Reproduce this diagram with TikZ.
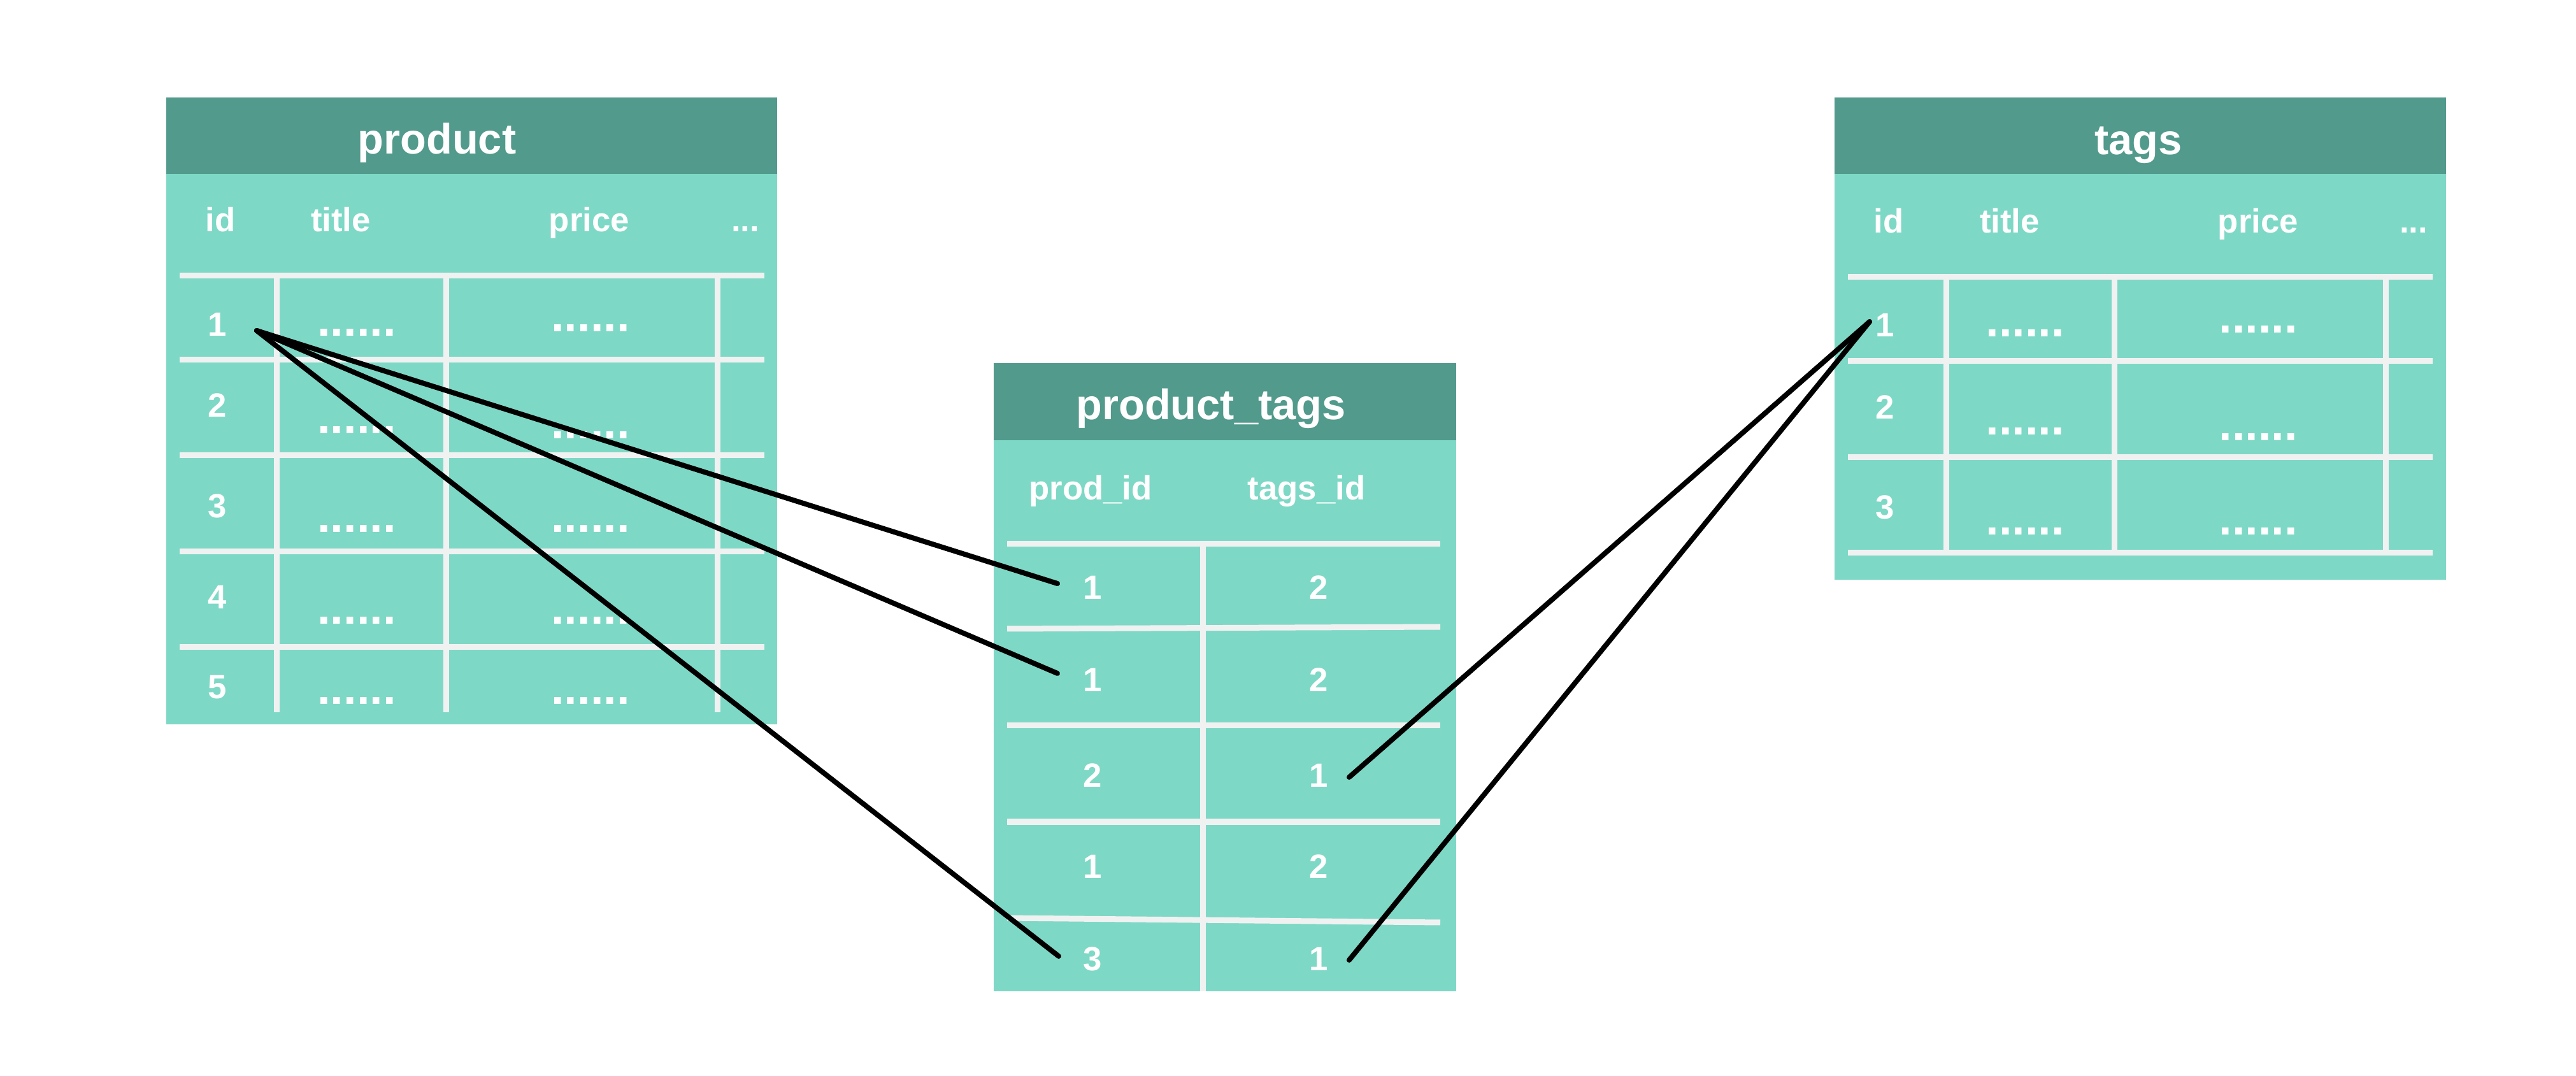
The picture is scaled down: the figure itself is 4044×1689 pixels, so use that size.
\documentclass[tikz,border=0pt]{standalone}
\usepackage{fontspec}
\setmainfont{Liberation Sans}
\definecolor{hdr}{RGB}{81,154,140}
\definecolor{tbody}{RGB}{126,216,198}
\definecolor{grid}{RGB}{240,242,242}
\begin{document}
\begin{tikzpicture}[x=0.01cm,y=-0.01cm,
 hdrtxt/.style={anchor=base,text=white,font=\bfseries\fontsize{19}{22}\selectfont,inner sep=0},
 coltxt/.style={anchor=base,text=white,font=\bfseries\fontsize{15}{18}\selectfont,inner sep=0},
 dottxt/.style={anchor=base,text=white,font=\bfseries\fontsize{21}{24}\selectfont,inner sep=0},
 gridline/.style={draw=grid,line width=0.09cm},
 link/.style={draw=black,line width=0.08cm,line cap=round}]
\useasboundingbox[fill=white] (0,0) rectangle (4044,1689);

% ---------- product ----------
\fill[tbody] (261,153) rectangle (1220,1137);
\fill[hdr] (261,153) rectangle (1220,273);
\node[hdrtxt] (ptitle) at (686,242) {product};
\node[coltxt] (pid) at (346,364) {id};
\node[coltxt] (ptit) at (535,364) {title};
\node[coltxt] (ppri) at (925,364) {price};
\node[coltxt] (pmore) at (1170,364) {...};
\foreach \y in {433,565,715,866,1016} \draw[gridline] (282,\y) -- (1200,\y);
\foreach \x in {434,700,1126} \draw[gridline] (\x,433) -- (\x,1118);
\foreach \n/\y in {1/528,2/655,3/813,4/956,5/1097} \node[coltxt] (pr\n) at (341,\y) {\n};
\foreach \n/\y in {1/523,2/676,3/831,4/975,5/1101} \node[dottxt] (pdt\n) at (560,\y+5) {......};
\foreach \n/\y in {1/516,2/684,3/831,4/975,5/1101} \node[dottxt] (pdp\n) at (927,\y+5) {......};

% ---------- product_tags ----------
\fill[tbody] (1560,570) rectangle (2286,1556);
\fill[hdr] (1560,570) rectangle (2286,691);
\node[hdrtxt] (pttitle) at (1901,659) {product\_tags};
\node[coltxt] (ptpid) at (1712,785) {prod\_id};
\node[coltxt] (pttid) at (2051,785) {tags\_id};
\draw[gridline] (1581,854) -- (2261,854);
\draw[gridline] (1581,987) -- (2261,984);
\draw[gridline] (1581,1139) -- (2261,1139);
\draw[gridline] (1581,1290) -- (2261,1290);
\draw[gridline] (1581,1441) -- (2261,1448);
\draw[gridline] (1888,854) -- (1888,1556);
\foreach \n/\a/\b/\y in {1/1/2/941,2/1/2/1086,3/2/1/1236,4/1/2/1379,5/3/1/1524} {
  \node[coltxt] (pta\n) at (1715,\y) {\a};
  \node[coltxt] (ptb\n) at (2070,\y) {\b};
}

% ---------- tags ----------
\fill[tbody] (2880,153) rectangle (3840,910);
\fill[hdr] (2880,153) rectangle (3840,273);
\node[hdrtxt] (ttitle) at (3357,243) {tags};
\node[coltxt] (tid) at (2965,366) {id};
\node[coltxt] (ttit) at (3155,366) {title};
\node[coltxt] (tpri) at (3545,366) {price};
\node[coltxt] (tmore) at (3789,366) {...};
\foreach \y in {435,567,718,868} \draw[gridline] (2901,\y) -- (3819,\y);
\foreach \x in {3055,3319,3745} \draw[gridline] (\x,435) -- (\x,868);
\foreach \n/\y in {1/529,2/658,3/815} \node[coltxt] (tr\n) at (2959,\y) {\n};
\foreach \n/\y in {1/524,2/678,3/835} \node[dottxt] (tdt\n) at (3179,\y+5) {......};
\foreach \n/\y in {1/518,2/687,3/835} \node[dottxt] (tdp\n) at (3545,\y+5) {......};

% ---------- connectors ----------
\coordinate (cp1) at (403,519);
\coordinate (ct1) at (2935,505);
\coordinate (cpa1) at (1660,916);
\coordinate (cpa2) at (1660,1057);
\coordinate (cpa5) at (1662,1501);
\coordinate (cpb3) at (2118,1220);
\coordinate (cpb5) at (2118,1507);
\draw[link] (cp1) -- (cpa1);
\draw[link] (cp1) -- (cpa2);
\draw[link] (cp1) -- (cpa5);
\draw[link] (ct1) -- (cpb3);
\draw[link] (ct1) -- (cpb5);
\end{tikzpicture}
\end{document}
